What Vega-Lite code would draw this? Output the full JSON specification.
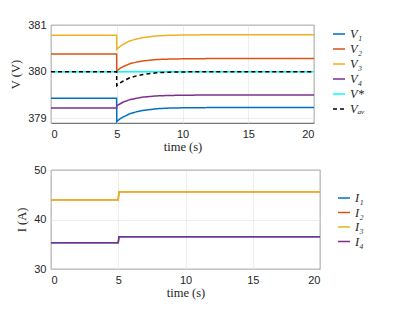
{
  "$schema": "https://vega.github.io/schema/vega-lite/v6.json",
  "padding": {"left": 9, "top": 18, "right": 5, "bottom": 5},
  "background": "white",
  "spacing": 10,
  "config": {
    "view": {"stroke": "#262626", "strokeWidth": 0.8},
    "axis": {
      "labelFont": "Liberation Sans", "labelFontSize": 11, "labelColor": "#262626",
      "titleFont": "Liberation Serif", "titleFontSize": 12.5, "titleFontWeight": "normal", "titleColor": "#262626",
      "domain": false, "gridColor": "#e6e6e6", "gridWidth": 0.7,
      "ticks": false, "labelPadding": 5, "labelOverlap": false
    },
    "legend": {
      "labelFont": "Liberation Serif", "labelFontStyle": "italic", "labelFontSize": 12.5, "labelColor": "#262626",
      "symbolType": "stroke", "symbolSize": 144, "symbolStrokeWidth": 1.5, "rowPadding": 1, "labelOffset": 4,
      "orient": "none", "padding": 0
    }
  },
  "datasets": {
    "volt": [
      {"t": 0, "v": 379.43, "s": "V₁"}, {"t": 4.99, "v": 379.43, "s": "V₁"}, {"t": 5, "v": 378.93, "s": "V₁"}, {"t": 5.25, "v": 378.99, "s": "V₁"}, {"t": 5.5, "v": 379.03, "s": "V₁"}, {"t": 6, "v": 379.1, "s": "V₁"}, {"t": 6.5, "v": 379.14, "s": "V₁"}, {"t": 7, "v": 379.17, "s": "V₁"}, {"t": 8, "v": 379.205, "s": "V₁"}, {"t": 9, "v": 379.22, "s": "V₁"}, {"t": 10, "v": 379.225, "s": "V₁"}, {"t": 12, "v": 379.23, "s": "V₁"}, {"t": 15, "v": 379.23, "s": "V₁"}, {"t": 20, "v": 379.23, "s": "V₁"},
      {"t": 0, "v": 380.38, "s": "V₂"}, {"t": 4.99, "v": 380.38, "s": "V₂"}, {"t": 5, "v": 380.02, "s": "V₂"}, {"t": 5.25, "v": 380.07, "s": "V₂"}, {"t": 5.5, "v": 380.11, "s": "V₂"}, {"t": 6, "v": 380.17, "s": "V₂"}, {"t": 6.5, "v": 380.205, "s": "V₂"}, {"t": 7, "v": 380.23, "s": "V₂"}, {"t": 8, "v": 380.26, "s": "V₂"}, {"t": 9, "v": 380.27, "s": "V₂"}, {"t": 10, "v": 380.275, "s": "V₂"}, {"t": 12, "v": 380.28, "s": "V₂"}, {"t": 15, "v": 380.28, "s": "V₂"}, {"t": 20, "v": 380.28, "s": "V₂"},
      {"t": 0, "v": 380.78, "s": "V₃"}, {"t": 4.99, "v": 380.78, "s": "V₃"}, {"t": 5, "v": 380.48, "s": "V₃"}, {"t": 5.25, "v": 380.54, "s": "V₃"}, {"t": 5.5, "v": 380.59, "s": "V₃"}, {"t": 6, "v": 380.66, "s": "V₃"}, {"t": 6.5, "v": 380.7, "s": "V₃"}, {"t": 7, "v": 380.73, "s": "V₃"}, {"t": 8, "v": 380.765, "s": "V₃"}, {"t": 9, "v": 380.78, "s": "V₃"}, {"t": 10, "v": 380.785, "s": "V₃"}, {"t": 12, "v": 380.79, "s": "V₃"}, {"t": 15, "v": 380.79, "s": "V₃"}, {"t": 20, "v": 380.79, "s": "V₃"},
      {"t": 0, "v": 379.22, "s": "V₄"}, {"t": 4.99, "v": 379.22, "s": "V₄"}, {"t": 5, "v": 379.27, "s": "V₄"}, {"t": 5.25, "v": 379.31, "s": "V₄"}, {"t": 5.5, "v": 379.35, "s": "V₄"}, {"t": 6, "v": 379.4, "s": "V₄"}, {"t": 6.5, "v": 379.43, "s": "V₄"}, {"t": 7, "v": 379.455, "s": "V₄"}, {"t": 8, "v": 379.48, "s": "V₄"}, {"t": 9, "v": 379.49, "s": "V₄"}, {"t": 10, "v": 379.495, "s": "V₄"}, {"t": 12, "v": 379.5, "s": "V₄"}, {"t": 15, "v": 379.5, "s": "V₄"}, {"t": 20, "v": 379.5, "s": "V₄"},
      {"t": 0, "v": 380, "s": "V*"}, {"t": 20, "v": 380, "s": "V*"},
      {"t": 0, "v": 380, "s": "Vₐᵥ"}, {"t": 4.99, "v": 380, "s": "Vₐᵥ"}, {"t": 5, "v": 379.7, "s": "Vₐᵥ"}, {"t": 5.25, "v": 379.76, "s": "Vₐᵥ"}, {"t": 5.5, "v": 379.8, "s": "Vₐᵥ"}, {"t": 6, "v": 379.87, "s": "Vₐᵥ"}, {"t": 6.5, "v": 379.91, "s": "Vₐᵥ"}, {"t": 7, "v": 379.94, "s": "Vₐᵥ"}, {"t": 8, "v": 379.975, "s": "Vₐᵥ"}, {"t": 9, "v": 379.99, "s": "Vₐᵥ"}, {"t": 10, "v": 379.995, "s": "Vₐᵥ"}, {"t": 12, "v": 380, "s": "Vₐᵥ"}, {"t": 15, "v": 380, "s": "Vₐᵥ"}, {"t": 20, "v": 380, "s": "Vₐᵥ"}
    ],
    "curr": [
      {"t": 0, "i": 35.3, "s": "I₁"}, {"t": 5, "i": 35.3, "s": "I₁"}, {"t": 5.05, "i": 36.5, "s": "I₁"}, {"t": 20, "i": 36.5, "s": "I₁"},
      {"t": 0, "i": 44.0, "s": "I₂"}, {"t": 5, "i": 44.0, "s": "I₂"}, {"t": 5.05, "i": 45.6, "s": "I₂"}, {"t": 20, "i": 45.6, "s": "I₂"},
      {"t": 0, "i": 44.0, "s": "I₃"}, {"t": 5, "i": 44.0, "s": "I₃"}, {"t": 5.05, "i": 45.6, "s": "I₃"}, {"t": 20, "i": 45.6, "s": "I₃"},
      {"t": 0, "i": 35.3, "s": "I₄"}, {"t": 5, "i": 35.3, "s": "I₄"}, {"t": 5.05, "i": 36.5, "s": "I₄"}, {"t": 20, "i": 36.5, "s": "I₄"}
    ]
  },
  "vconcat": [
    {
      "width": 263, "height": 98,
      "data": {"name": "volt"},
      "mark": {"type": "line", "strokeWidth": 1.5, "clip": true},
      "encoding": {
        "x": {"field": "t", "type": "quantitative", "scale": {"domain": [0, 20], "nice": false}, "axis": {"values": [0, 5, 10, 15, 20], "title": "time (s)", "titlePadding": 1}},
        "y": {"field": "v", "type": "quantitative", "scale": {"domain": [378.9, 381], "nice": false, "zero": false}, "axis": {"values": [379, 380, 381], "labelExpr": "format(datum.value, '.0f')", "title": "V (V)", "titlePadding": 5}},
        "color": {"field": "s", "type": "nominal", "title": null, "legend": {"legendX": 281, "legendY": 2}, "scale": {"domain": ["V₁", "V₂", "V₃", "V₄", "V*", "Vₐᵥ"], "range": ["#0072BD", "#D95319", "#EDB120", "#7E2F8E", "#00FFFF", "#000000"]}},
        "strokeDash": {"field": "s", "type": "nominal", "title": null, "legend": {"legendX": 281, "legendY": 2}, "scale": {"domain": ["V₁", "V₂", "V₃", "V₄", "V*", "Vₐᵥ"], "range": [[1, 0], [1, 0], [1, 0], [1, 0], [1, 0], [4, 3]]}}
      }
    },
    {
      "width": 269, "height": 99,
      "data": {"name": "curr"},
      "mark": {"type": "line", "strokeWidth": 1.5, "clip": true},
      "encoding": {
        "x": {"field": "t", "type": "quantitative", "scale": {"domain": [0, 20], "nice": false}, "axis": {"values": [0, 5, 10, 15, 20], "title": "time (s)", "titlePadding": 1}},
        "y": {"field": "i", "type": "quantitative", "scale": {"domain": [30, 50], "nice": false, "zero": false}, "axis": {"values": [30, 40, 50], "title": "I (A)", "titlePadding": 5}},
        "color": {"field": "s", "type": "nominal", "title": null, "legend": {"legendX": 286, "legendY": 21, "rowPadding": 0.5}, "scale": {"domain": ["I₁", "I₂", "I₃", "I₄"], "range": ["#0072BD", "#D95319", "#EDB120", "#7E2F8E"]}}
      }
    }
  ],
  "resolve": {"scale": {"color": "independent", "strokeDash": "independent"}, "legend": {"color": "independent"}}
}
